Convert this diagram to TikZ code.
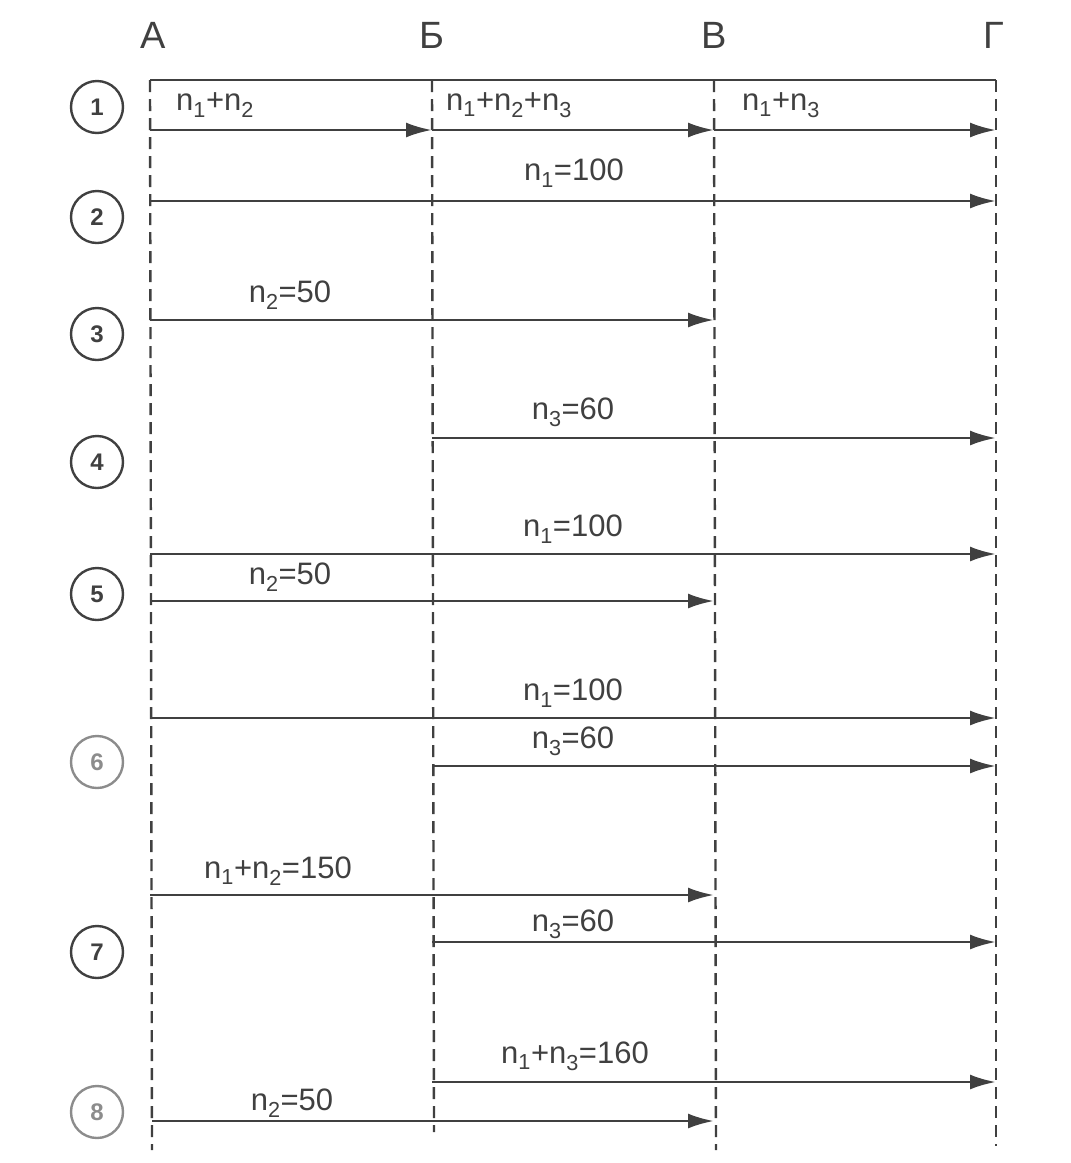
\documentclass[tikz,border=0pt]{standalone}
\usepackage{fontspec}
\setmainfont{Liberation Sans}
\usetikzlibrary{arrows.meta}
\newcommand\lsub[1]{\textsubscript{#1}}
\begin{document}
\begin{tikzpicture}[x=1pt,y=-1pt,
  ink/.style={black!75},
  axis/.style={ink,line width=2.4pt,dash pattern=on 12pt off 7pt},
  flow/.style={ink,line width=2.8pt,-{Latex[length=26pt,width=15pt]}},
  lbl/.style={ink,font=\fontsize{31}{34}\selectfont,inner sep=0pt},
  hdr/.style={ink,font=\fontsize{38}{42}\selectfont,inner sep=0pt},
  num/.style={ink,circle,draw,line width=2.4pt,minimum size=52pt,inner sep=0pt,font=\fontsize{24}{26}\selectfont\bfseries}]
\useasboundingbox (0,0) rectangle (1071,1163);
% column headers
\node[hdr] (hA) at (153,35) {А};
\node[hdr] (hB) at (432,35) {Б};
\node[hdr] (hV) at (714,35) {В};
\node[hdr] (hG) at (994,35) {Г};
% column top and bottom coordinates
\coordinate (tA) at (150,80); \coordinate (bA) at (152,1150);
\coordinate (tB) at (432,80); \coordinate (bB) at (434,1132);
\coordinate (tV) at (714,80); \coordinate (bV) at (716,1150);
\coordinate (tG) at (996,80); \coordinate (bG) at (996,1146);
\draw[ink,line width=2.8pt] (tA) -- (tG);
\draw[axis] (tA) -- (bA);
\draw[axis] (tB) -- (bB);
\draw[axis] (tV) -- (bV);
\draw[axis] (tG) -- (bG);
% row numbers
\node[num] (c1) at (97,107) {1};
\node[num] (c2) at (97,217) {2};
\node[num] (c3) at (97,334) {3};
\node[num] (c4) at (97,462) {4};
\node[num] (c5) at (97,594) {5};
\node[num,black!45] (c6) at (97,762) {6};
\node[num] (c7) at (97,952) {7};
\node[num,black!45] (c8) at (97,1112) {8};
% row 1
\coordinate (a1) at (150,130); \coordinate (b1) at (432,130);
\coordinate (v1) at (714,130); \coordinate (g1) at (996,130);
\draw[flow] (a1) -- (b1);
\draw[flow] (b1) -- (v1);
\draw[flow] (v1) -- (g1);
\node[lbl,anchor=west] (l1a) at (176,105) {n\lsub{1}+n\lsub{2}};
\node[lbl,anchor=west] (l1b) at (446,105) {n\lsub{1}+n\lsub{2}+n\lsub{3}};
\node[lbl,anchor=west] (l1c) at (742,105) {n\lsub{1}+n\lsub{3}};
% row 2
\coordinate (a2) at (150,201); \coordinate (g2) at (996,201);
\draw[flow] (a2) -- (g2);
\node[lbl] (l2) at (574,173) {n\lsub{1}=100};
% row 3
\coordinate (a3) at (150,320); \coordinate (v3) at (714,320);
\draw[flow] (a3) -- (v3);
\node[lbl] (l3) at (290,295) {n\lsub{2}=50};
% row 4
\coordinate (b4) at (432,438); \coordinate (g4) at (996,438);
\draw[flow] (b4) -- (g4);
\node[lbl] (l4) at (573,412) {n\lsub{3}=60};
% row 5
\coordinate (a5) at (150,554); \coordinate (g5) at (996,554);
\draw[flow] (a5) -- (g5);
\node[lbl] (l5a) at (573,529) {n\lsub{1}=100};
\coordinate (a5b) at (150,601); \coordinate (v5) at (714,601);
\draw[flow] (a5b) -- (v5);
\node[lbl] (l5b) at (290,577) {n\lsub{2}=50};
% row 6
\coordinate (a6) at (150,718); \coordinate (g6) at (996,718);
\draw[flow] (a6) -- (g6);
\node[lbl] (l6a) at (573,693) {n\lsub{1}=100};
\coordinate (b6) at (432,766); \coordinate (g6b) at (996,766);
\draw[flow] (b6) -- (g6b);
\node[lbl] (l6b) at (573,741) {n\lsub{3}=60};
% row 7
\coordinate (a7) at (150,895); \coordinate (v7) at (714,895);
\draw[flow] (a7) -- (v7);
\node[lbl] (l7a) at (278,871) {n\lsub{1}+n\lsub{2}=150};
\coordinate (b7) at (432,942); \coordinate (g7) at (996,942);
\draw[flow] (b7) -- (g7);
\node[lbl] (l7b) at (573,924) {n\lsub{3}=60};
% row 8
\coordinate (b8) at (432,1082); \coordinate (g8) at (996,1082);
\draw[flow] (b8) -- (g8);
\node[lbl] (l8a) at (575,1056) {n\lsub{1}+n\lsub{3}=160};
\coordinate (a8) at (152,1121); \coordinate (v8) at (714,1121);
\draw[flow] (a8) -- (v8);
\node[lbl] (l8b) at (292,1103) {n\lsub{2}=50};
\end{tikzpicture}
\end{document}
